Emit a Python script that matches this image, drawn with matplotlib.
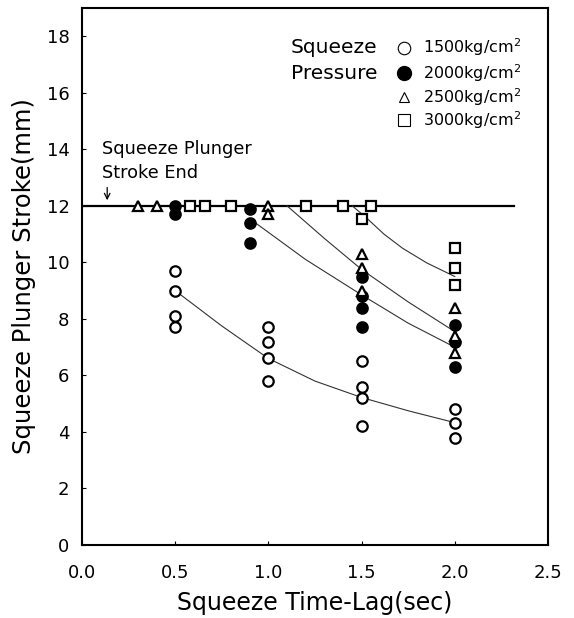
import matplotlib.pyplot as plt

plt.rcParams["font.family"] = ["DejaVu Sans"]

# measured points, grouped by squeeze pressure
p1500_x = [0.5, 0.5, 0.5, 0.5, 1.0, 1.0, 1.0, 1.0, 1.5, 1.5, 1.5, 1.5, 2.0, 2.0, 2.0]
p1500_y = [9.7, 9.0, 8.1, 7.7, 7.7, 7.2, 6.6, 5.8, 6.5, 5.6, 5.2, 4.2, 4.8, 4.3, 3.8]

p2000_x = [0.5, 0.5, 0.9, 0.9, 0.9, 1.5, 1.5, 1.5, 1.5, 2.0, 2.0, 2.0]
p2000_y = [12.0, 11.7, 11.9, 11.4, 10.7, 9.5, 8.8, 8.4, 7.7, 7.8, 7.2, 6.3]

p2500_x = [0.3, 0.4, 1.0, 1.0, 1.5, 1.5, 1.5, 2.0, 2.0, 2.0]
p2500_y = [12.0, 12.0, 12.0, 11.7, 10.3, 9.8, 9.0, 8.4, 7.4, 6.8]

p3000_x = [0.58, 0.66, 0.8, 1.2, 1.4, 1.55, 1.5, 2.0, 2.0, 2.0]
p3000_y = [12.0, 12.0, 12.0, 12.0, 12.0, 12.0, 11.55, 10.5, 9.8, 9.2]

# trend curves
c1500_x = [0.5, 0.75, 1.0, 1.25, 1.5, 1.75, 2.0]
c1500_y = [9.0, 7.75, 6.6, 5.8, 5.22, 4.75, 4.33]
c2000_x = [0.93, 1.2, 1.5, 1.75, 2.0]
c2000_y = [11.4, 10.1, 8.85, 7.85, 7.0]
c2500_x = [1.1, 1.3, 1.5, 1.75, 2.0]
c2500_y = [12.0, 10.85, 9.75, 8.6, 7.55]
c3000_x = [1.45, 1.53, 1.62, 1.72, 1.85, 2.0]
c3000_y = [12.0, 11.55, 11.0, 10.5, 9.98, 9.5]

stroke_end = 12.0
stroke_end_x = [0.0, 2.32]

legend_labels = ["1500kg/cm$^2$", "2000kg/cm$^2$", "2500kg/cm$^2$", "3000kg/cm$^2$"]

fig = plt.figure(figsize=(5.74, 6.18), dpi=100)
ax = fig.add_axes([0.1429, 0.1181, 0.8118, 0.8689])

ax.plot(stroke_end_x, [stroke_end, stroke_end], color="black", lw=1.6, zorder=2)

for cx, cy in [(c1500_x, c1500_y), (c2000_x, c2000_y), (c2500_x, c2500_y), (c3000_x, c3000_y)]:
    ax.plot(cx, cy, color="#333333", lw=0.8, zorder=2)

mk = dict(ls="none", ms=7.5, mew=1.6, mec="black", zorder=3)
ax.plot(p1500_x, p1500_y, marker="o", mfc="white", **mk)
ax.plot(p2000_x, p2000_y, marker="o", mfc="black", **mk)
ax.plot(p2500_x, p2500_y, marker="^", mfc="white", **mk)
ax.plot(p3000_x, p3000_y, marker="s", mfc="white", **mk)

ax.text(0.105, 14.0, "Squeeze Plunger", fontsize=12.8, va="center")
ax.text(0.105, 13.15, "Stroke End", fontsize=12.8, va="center")
ax.annotate("", xy=(0.135, 12.1), xytext=(0.135, 12.75),
            arrowprops=dict(arrowstyle="->", lw=0.9, color="black"))

# hand made legend
leg_y = [17.6, 16.7, 15.85, 15.05]
ax.text(1.12, leg_y[0], "Squeeze", fontsize=14.5, va="center")
ax.text(1.12, leg_y[1], "Pressure", fontsize=14.5, va="center")
leg_style = [("o", "white", 9, 0.8), ("o", "black", 10, 1.0),
             ("^", "white", 7, 0.8), ("s", "white", 8, 0.8)]
for y, (m, fc, ms, ew), lab in zip(leg_y, leg_style, legend_labels):
    ax.plot([1.73], [y], marker=m, mfc=fc, mec="black", ms=ms, mew=ew, ls="none")
    ax.text(1.83, y, lab, fontsize=11.5, va="center")

ax.set_xlim(0, 2.5)
ax.set_ylim(0, 19)
ax.set_xticks([0.0, 0.5, 1.0, 1.5, 2.0, 2.5])
ax.set_xticklabels(["0.0", "0.5", "1.0", "1.5", "2.0", "2.5"])
ax.set_yticks(range(0, 19, 2))
ax.tick_params(direction="in", length=3, width=0.8, labelsize=13)
ax.tick_params(axis="x", pad=14)
ax.tick_params(axis="y", pad=9)
for s in ax.spines.values():
    s.set_linewidth(1.5)

ax.set_xlabel("Squeeze Time-Lag(sec)", fontsize=17, labelpad=6)
ax.set_ylabel("Squeeze Plunger Stroke(mm)", fontsize=17.5, labelpad=8)

fig.savefig("out.png", dpi=100)
